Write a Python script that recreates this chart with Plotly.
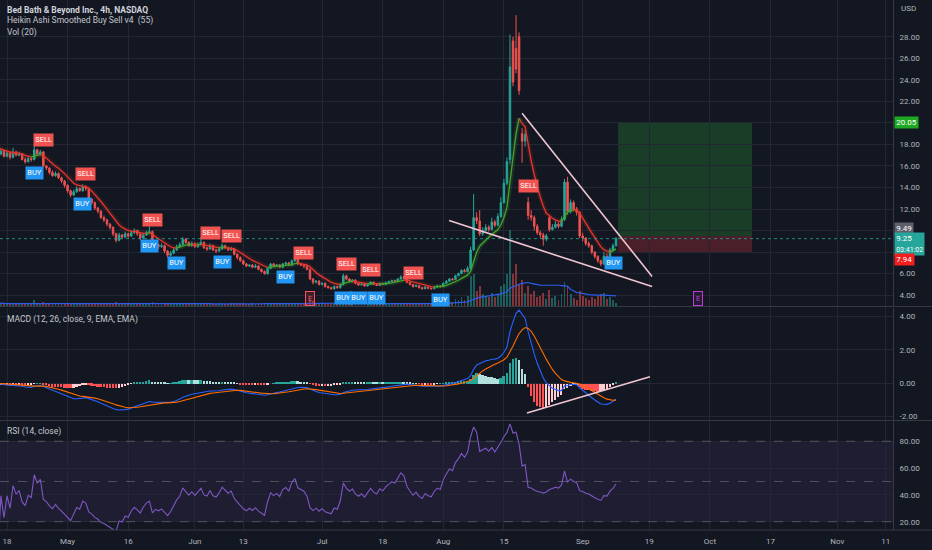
import numpy as np
import pandas as pd
import plotly.graph_objects as go

# ---------------- trading calendar: two 4h bars per session ----------------
holidays = ["2022-04-15", "2022-05-30", "2022-06-20", "2022-07-04",
            "2022-09-05", "2022-11-24"]
sessions = [d.strftime("%Y-%m-%d") for d in pd.bdate_range("2022-04-13", "2022-11-30")
            if d.strftime("%Y-%m-%d") not in holidays]
session_index = {d: i for i, d in enumerate(sessions)}


def bar_of(day, half=0):
    return 2 * session_index[day] + half


# ---------------- BBBY 4h price data (first bar: 2022-04-13) ----------------
close = [17.6, 17.1, 17.4, 16.9, 17.2, 16.8, 17.3, 17.0, 17.1, 16.6,
         16.4, 16.7, 16.6, 17.5, 17.1, 17.3, 16.0, 15.8, 15.4, 15.1,
         15.3, 14.9, 14.6, 14.2, 13.7, 13.3, 13.6, 13.9, 13.7, 14.1,
         13.9, 12.9, 12.6, 12.1, 11.8, 11.2, 11.0, 10.6, 10.3, 9.7,
         9.1, 9.6, 9.4, 9.7, 9.5, 9.8, 10.0, 9.7, 9.3, 9.6,
         9.8, 9.9, 8.5, 8.7, 8.5, 8.6, 8.1, 7.7, 7.9, 8.2,
         8.5, 8.7, 9.2, 8.9, 8.6, 8.8, 8.5, 8.7, 8.9, 8.4,
         8.3, 8.6, 8.2, 8.1, 8.3, 8.6, 8.4, 8.2, 8.3, 7.8,
         7.5, 7.2, 6.9, 6.7, 6.8, 6.6, 6.7, 6.4, 6.2, 6.0,
         6.5, 6.9, 6.7, 6.8, 6.6, 6.9, 7.0, 6.8, 7.2, 7.4,
         6.9, 6.8, 6.7, 6.4, 5.5, 5.2, 5.3, 5.0, 5.1, 4.8,
         4.7, 4.6, 4.8, 4.7, 5.0, 5.8, 5.5, 5.3, 5.4, 5.1,
         4.95, 5.05, 4.85, 5.0, 5.2, 5.0, 4.9, 5.1, 5.0, 5.15,
         5.25, 5.35, 5.3, 5.5, 5.7, 5.6, 5.2, 5.0, 4.8, 4.9,
         4.7, 4.6, 4.75, 4.65, 4.6, 4.75, 4.85, 4.8, 5.1, 5.3,
         5.5, 5.45, 5.8, 6.0, 6.3, 6.2, 6.5, 8.2, 11.2, 10.9,
         9.7, 10.0, 10.3, 10.1, 10.8, 10.5, 11.3, 12.6, 14.4, 16.4,
         25.2, 23.8, 25.0, 23.0, 18.3, 18.9, 11.4, 11.2, 10.4, 9.8,
         9.6, 9.2, 9.5, 10.1, 10.3, 10.6, 10.4, 11.0, 14.5, 11.8,
         12.6, 12.0, 11.7, 9.5, 9.3, 8.8, 8.6, 8.0, 7.6, 7.2,
         6.9, 7.6, 7.5, 8.2, 8.6, 9.25]

high = [18.1, 17.7, 17.6, 17.5, 17.4, 17.3, 17.7, 17.4, 17.3, 17.2,
        16.8, 16.9, 16.8, 17.95, 17.6, 17.5, 17.4, 16.1, 15.9, 15.6,
        15.5, 15.4, 15.0, 14.7, 14.3, 13.8, 13.8, 14.1, 14.0, 14.3,
        14.2, 14.0, 13.0, 12.7, 12.2, 11.9, 11.4, 11.1, 10.7, 10.4,
        9.8, 9.8, 9.7, 9.9, 9.8, 10.0, 10.2, 10.1, 9.8, 9.8,
        10.0, 10.4, 10.0, 8.9, 8.8, 8.8, 8.7, 8.2, 8.1, 8.4,
        8.7, 8.9, 9.4, 9.3, 9.0, 9.0, 8.9, 8.9, 9.4, 9.0,
        8.5, 8.8, 8.7, 8.3, 8.5, 8.8, 8.7, 8.5, 8.5, 8.4,
        7.9, 7.6, 7.3, 7.0, 6.9, 6.9, 6.9, 6.8, 6.5, 6.3,
        6.6, 7.0, 7.0, 6.9, 6.9, 7.0, 7.1, 7.1, 7.3, 7.6,
        7.5, 7.0, 6.9, 6.8, 6.5, 5.6, 5.4, 5.4, 5.2, 5.2,
        4.9, 4.8, 4.9, 4.9, 5.1, 6.0, 5.9, 5.6, 5.5, 5.5,
        5.15, 5.15, 5.1, 5.1, 5.3, 5.25, 5.05, 5.2, 5.15, 5.25,
        5.35, 5.45, 5.45, 5.6, 5.85, 5.8, 5.65, 5.25, 5.05, 5.0,
        4.95, 4.75, 4.85, 4.8, 4.7, 4.85, 4.95, 4.9, 5.2, 5.4,
        5.6, 5.6, 5.9, 6.1, 6.4, 6.45, 6.7, 8.5, 13.4, 11.7,
        11.9, 10.3, 10.6, 10.5, 11.2, 11.0, 11.6, 13.1, 14.8, 16.8,
        28.2, 28.0, 30.0, 28.4, 19.5, 19.3, 13.1, 11.9, 11.4, 10.6,
        10.0, 9.8, 9.7, 11.4, 10.6, 10.9, 10.8, 11.3, 14.8, 15.0,
        12.9, 12.8, 12.2, 11.8, 9.8, 9.4, 9.0, 8.7, 8.1, 7.7,
        7.3, 8.0, 7.9, 8.4, 8.8, 9.4]

low = [17.4, 16.9, 17.0, 16.8, 16.8, 16.6, 16.7, 16.9, 16.9, 16.5,
       16.2, 16.3, 16.4, 16.5, 17.0, 17.0, 15.9, 15.6, 15.2, 15.0,
       15.0, 14.8, 14.4, 14.0, 13.5, 13.1, 13.2, 13.5, 13.6, 13.6,
       13.7, 12.8, 12.4, 11.9, 11.6, 11.1, 10.8, 10.4, 10.1, 9.5,
       8.9, 9.0, 9.2, 9.3, 9.3, 9.4, 9.7, 9.5, 9.1, 9.2,
       9.5, 9.7, 8.4, 8.4, 8.3, 8.4, 7.9, 7.5, 7.6, 7.8,
       8.1, 8.4, 8.6, 8.8, 8.5, 8.5, 8.4, 8.4, 8.6, 8.3,
       8.1, 8.2, 8.1, 7.9, 8.0, 8.2, 8.3, 8.1, 8.1, 7.7,
       7.3, 7.1, 6.8, 6.6, 6.6, 6.5, 6.5, 6.3, 6.1, 5.9,
       5.9, 6.4, 6.6, 6.6, 6.5, 6.5, 6.8, 6.7, 6.7, 7.1,
       6.8, 6.7, 6.5, 6.3, 5.4, 5.0, 5.1, 4.9, 4.9, 4.7,
       4.6, 4.5, 4.5, 4.6, 4.6, 4.9, 5.4, 5.2, 5.2, 5.0,
       4.85, 4.9, 4.8, 4.8, 4.95, 4.95, 4.85, 4.85, 4.95, 4.95,
       5.1, 5.2, 5.2, 5.25, 5.45, 5.5, 5.1, 4.9, 4.7, 4.75,
       4.6, 4.5, 4.55, 4.55, 4.5, 4.55, 4.7, 4.7, 4.75, 5.05,
       5.25, 5.35, 5.4, 5.75, 5.95, 6.1, 6.1, 6.4, 8.1, 10.6,
       9.5, 9.5, 9.9, 9.9, 10.0, 10.3, 10.4, 11.2, 12.5, 14.2,
       16.2, 23.4, 24.6, 22.6, 16.3, 17.8, 11.0, 10.9, 10.0, 9.6,
       9.3, 8.6, 9.0, 9.9, 10.0, 10.2, 10.2, 10.3, 10.9, 11.5,
       11.6, 11.8, 11.4, 9.3, 9.0, 8.6, 8.4, 7.8, 7.4, 7.0,
       6.7, 6.8, 7.3, 7.4, 8.1, 8.5]

# opens follow the prior close except on these gap bars
gap_open = {0: 17.9, 170: 16.6, 171: 27.6, 172: 26.9, 173: 28.0,
            174: 19.0, 176: 12.6, 183: 11.2}

# volume per bar, millions of shares
volume = [5, 4, 4, 3, 3, 4, 5, 3, 3, 4,
          3, 3, 4, 9, 5, 4, 6, 4, 3, 4,
          3, 3, 4, 3, 4, 3, 3, 4, 3, 3,
          5, 4, 3, 4, 3, 5, 4, 4, 3, 4,
          6, 4, 3, 3, 4, 3, 3, 4, 3, 3,
          4, 5, 6, 4, 3, 3, 4, 5, 3, 3,
          4, 3, 5, 3, 3, 4, 3, 3, 4, 3,
          3, 4, 3, 3, 4, 3, 3, 3, 4, 4,
          4, 5, 4, 3, 3, 4, 3, 4, 4, 5,
          5, 4, 3, 3, 4, 3, 3, 4, 4, 5,
          4, 3, 4, 5, 9, 7, 5, 5, 4, 5,
          4, 4, 3, 4, 5, 8, 5, 4, 3, 4,
          3, 3, 4, 3, 4, 3, 3, 4, 3, 3,
          4, 3, 4, 4, 5, 4, 4, 3, 4, 3,
          3, 4, 3, 3, 4, 3, 4, 4, 7, 9,
          8, 6, 10, 9, 12, 8, 14, 40, 42, 20,
          27, 16, 14, 12, 18, 13, 16, 27, 30, 43,
          100, 43, 56, 30, 34, 18, 27, 16, 20, 12,
          14, 18, 10, 22, 11, 14, 9, 16, 32, 25,
          16, 11, 9, 20, 14, 11, 9, 12, 10, 14,
          16, 18, 10, 12, 8, 5]

# ---------------- axis ticks ----------------
tick_days = ["2022-04-18", "2022-05-02", "2022-05-16", "2022-06-01", "2022-06-13",
             "2022-07-01", "2022-07-18", "2022-08-01", "2022-08-15", "2022-09-01",
             "2022-09-19", "2022-10-03", "2022-10-17", "2022-11-01", "2022-11-11"]
tick_text = ["18", "May", "16", "Jun", "13", "Jul", "18", "Aug", "15", "Sep",
             "19", "Oct", "17", "Nov", "11"]
price_ticks = [4, 6, 8, 10, 12, 14, 16, 18, 20, 22, 24, 26, 28]
price_ticks_covered = [8, 10, 20]          # hidden behind the axis price tags
macd_ticks = [-2, 0, 2, 4]
rsi_ticks = [20, 40, 60, 80]
rsi_levels = [80, 50, 20]

# ---------------- indicator signals & events ----------------
sell_bars = [16, 30, 52, 71, 78, 102, 116, 124, 138, 176]
buy_bars = [13, 29, 51, 60, 75, 96, 115, 120, 126, 147, 204]
earnings_days = ["2022-06-29", "2022-09-29"]
earnings_colors = ["#f7525f", "#c23bd8"]
earnings_fills = ["rgba(242,54,69,0.18)", "rgba(156,39,176,0.12)"]

# ---------------- drawings ----------------
entry_price, target_price, stop_price = 9.49, 20.05, 7.94
position_span = (205.7, 249.9)
last_price = 9.25
bar_timer = "03:41:02"
wedge_upper = [(174.0, 20.9), (216.9, 5.74)]
wedge_lower = [(149.9, 10.93), (216.9, 4.81)]
macd_trend = [(175.6, -1.78), (216.2, 0.38)]

# ---------------- derived series ----------------
n = len(close)
bars = np.arange(n)
c = pd.Series(close, dtype=float)
o = pd.Series([gap_open.get(i, close[i - 1] if i > 0 else close[0]) for i in range(n)])
h = pd.Series(high, dtype=float)
l = pd.Series(low, dtype=float)
h = np.maximum(h, np.maximum(o, c))
l = np.minimum(l, np.minimum(o, c))

ha_smooth = ((o + h + l + c) / 4).ewm(span=8, adjust=False).mean()

ema_fast = c.ewm(span=12, adjust=False).mean()
ema_slow = c.ewm(span=26, adjust=False).mean()
macd = ema_fast - ema_slow
signal = macd.ewm(span=9, adjust=False).mean()
hist = macd - signal

delta = c.diff().fillna(0)
gain = delta.clip(lower=0).ewm(alpha=1 / 14, adjust=True).mean()
loss = (-delta.clip(upper=0)).ewm(alpha=1 / 14, adjust=True).mean()
rsi = 100 - 100 / (1 + gain / loss.replace(0, np.nan))
rsi = rsi.fillna(50)

vol_ma = pd.Series(volume, dtype=float).rolling(20, min_periods=1).mean()

# ---------------- style ----------------
BG = "#131722"
GRID = "#232733"
AXIS_LINE = "#363a45"
TEXT = "#b2b5be"
UP = "#26a69a"
DOWN = "#ef5350"
FONT = "Roboto"

PLOT_H = 530.0
PLOT_W = 893.0


def py(px):
    return 1 - px / PLOT_H


main_dom = [py(306.5), 1]
macd_dom = [py(420), py(307.5)]
rsi_dom = [0, py(421)]

x_range = [(0 + 5.12) / 3.03, (PLOT_W + 5.12) / 3.03]
tick_vals = [bar_of(d) for d in tick_days]

fig = go.Figure()

# volume (overlay on the price pane)
vol_colors = ["rgba(38,166,154,0.5)" if c[i] >= o[i] else "rgba(239,83,80,0.5)" for i in range(n)]
fig.add_trace(go.Bar(x=bars, y=volume, marker=dict(color=vol_colors, line_width=0),
                     width=0.62, xaxis="x", yaxis="y4", hoverinfo="skip"))
fig.add_trace(go.Scatter(x=bars, y=vol_ma, mode="lines", line=dict(color="#2f5bea", width=1.2),
                         xaxis="x", yaxis="y4", hoverinfo="skip"))


# smoothed Heikin Ashi line, green while rising, red while falling
def direction_runs(xs, ys):
    runs = {"up": ([], []), "down": ([], [])}
    prev = None
    for i in range(1, len(ys)):
        d = "up" if ys[i] >= ys[i - 1] else "down"
        rx, ry = runs[d]
        if d != prev:
            if rx:
                rx.append(None)
                ry.append(None)
            rx.append(xs[i - 1])
            ry.append(ys[i - 1])
        rx.append(xs[i])
        ry.append(ys[i])
        prev = d
    return runs


runs = direction_runs(list(bars), list(ha_smooth))
for key, col, glow in [("down", "#e8352c", "rgba(200,50,40,0.16)"),
                       ("up", "#43a52a", "rgba(67,165,42,0.16)")]:
    rx, ry = runs[key]
    fig.add_trace(go.Scatter(x=rx, y=ry, mode="lines", line=dict(color=glow, width=5),
                             xaxis="x", yaxis="y", hoverinfo="skip", connectgaps=False))
    fig.add_trace(go.Scatter(x=rx, y=ry, mode="lines", line=dict(color=col, width=1.3),
                             xaxis="x", yaxis="y", hoverinfo="skip", connectgaps=False))

# candles
fig.add_trace(go.Candlestick(
    x=bars, open=o, high=h, low=l, close=c, xaxis="x", yaxis="y",
    increasing=dict(line=dict(color=UP, width=1), fillcolor=UP),
    decreasing=dict(line=dict(color=DOWN, width=1), fillcolor=DOWN),
    whiskerwidth=0, hoverinfo="skip"))

# MACD pane
hist_colors = []
for i in range(n):
    prev = hist[i - 1] if i > 0 else hist[i]
    if hist[i] >= 0:
        hist_colors.append("#26a69a" if hist[i] >= prev else "#b2dfdb")
    else:
        hist_colors.append("#ff5252" if hist[i] < prev else "#ffcdd2")
fig.add_trace(go.Bar(x=bars, y=hist, marker=dict(color=hist_colors, line_width=0), width=0.62,
                     xaxis="x2", yaxis="y2", hoverinfo="skip"))
fig.add_trace(go.Scatter(x=bars, y=macd, mode="lines", line=dict(color="#2962ff", width=1.1),
                         xaxis="x2", yaxis="y2", hoverinfo="skip"))
fig.add_trace(go.Scatter(x=bars, y=signal, mode="lines", line=dict(color="#ff6d00", width=1.1),
                         xaxis="x2", yaxis="y2", hoverinfo="skip"))

# RSI pane
fig.add_trace(go.Scatter(x=bars, y=rsi, mode="lines", line=dict(color="#7e57c2", width=1.1),
                         xaxis="x3", yaxis="y3", hoverinfo="skip"))

shapes = []
# RSI band and levels
shapes.append(dict(type="rect", xref="paper", yref="y3", x0=0, x1=1, y0=20, y1=80,
                   fillcolor="rgba(126,87,194,0.10)", line_width=0, layer="below"))
for lv in rsi_levels:
    shapes.append(dict(type="line", xref="paper", yref="y3", x0=0, x1=1, y0=lv, y1=lv,
                       line=dict(color="rgba(120,123,134,0.55)", width=1, dash="dash")))

# long position tool
p0, p1 = position_span
shapes.append(dict(type="rect", xref="x", yref="y", x0=p0, x1=p1, y0=entry_price, y1=target_price,
                   fillcolor="rgba(40,150,50,0.30)", line_width=0, layer="below"))
shapes.append(dict(type="rect", xref="x", yref="y", x0=p0, x1=p1, y0=stop_price, y1=entry_price,
                   fillcolor="rgba(242,54,69,0.25)", line_width=0, layer="below"))

# last price line
shapes.append(dict(type="line", xref="paper", yref="y", x0=0, x1=1, y0=last_price, y1=last_price,
                   line=dict(color="rgba(38,166,154,0.8)", width=1, dash="dot")))

# trend lines
for (xa, ya), (xb, yb) in [wedge_upper, wedge_lower]:
    shapes.append(dict(type="line", xref="x", yref="y", x0=xa, y0=ya, x1=xb, y1=yb,
                       line=dict(color="#f1c4d2", width=1.6)))
(xa, ya), (xb, yb) = macd_trend
shapes.append(dict(type="line", xref="x2", yref="y2", x0=xa, y0=ya, x1=xb, y1=yb,
                   line=dict(color="#f1c4d2", width=1.6)))

# pane separators (span the price scale as well)
full_w = 932.0 / PLOT_W
for px in (306.5, 420.5, 530):
    shapes.append(dict(type="line", xref="paper", yref="paper", x0=0, x1=full_w,
                       y0=py(px), y1=py(px), line=dict(color=AXIS_LINE, width=1)))

annotations = []
# legend texts
legend_lines = [("<b>Bed Bath &amp; Beyond Inc., 4h, NASDAQ</b>", 9.5, "#d1d4dc"),
                ("Heikin Ashi Smoothed Buy Sell v4  (55)", 21, "#c3c6ce"),
                ("Vol (20)", 33, "#c3c6ce"),
                ("MACD (12, 26, close, 9, EMA, EMA)", 319, "#c3c6ce"),
                ("RSI (14, close)", 431.5, "#c3c6ce")]
for txt, ypx, col in legend_lines:
    annotations.append(dict(text=txt, xref="paper", yref="paper", x=5 / PLOT_W, y=py(ypx),
                            xanchor="left", yanchor="middle", showarrow=False,
                            font=dict(family=FONT, size=8.5, color=col)))
annotations.append(dict(text="USD", xref="paper", yref="paper", x=1 + 6 / PLOT_W, y=py(9),
                        xanchor="left", yanchor="middle", showarrow=False,
                        font=dict(family=FONT, size=8, color=TEXT)))

# buy / sell labels
for b in sell_bars:
    annotations.append(dict(text="SELL", x=b, y=h[b], xref="x", yref="y", xanchor="center",
                            yanchor="bottom", yshift=4, showarrow=False, bgcolor="#f05350",
                            borderpad=1.3, font=dict(family=FONT, size=7.5, color="white")))
for b in buy_bars:
    annotations.append(dict(text="BUY", x=b, y=l[b], xref="x", yref="y", xanchor="center",
                            yanchor="top", yshift=-5, showarrow=False, bgcolor="#2196f3",
                            borderpad=1.3, font=dict(family=FONT, size=7.5, color="white")))

# earnings markers
for d, col, fill in zip(earnings_days, earnings_colors, earnings_fills):
    annotations.append(dict(text="E", x=bar_of(d), y=0.027, xref="x", yref="y domain",
                            xanchor="center", yanchor="middle", showarrow=False,
                            bgcolor=fill, bordercolor=col, borderwidth=1, borderpad=2,
                            font=dict(family=FONT, size=7.5, color=col)))

# price scale tags
tags = [(target_price, f"{target_price:.2f}", "#1ea722", 0),
        (entry_price, f"{entry_price:.2f}", "#5d606b", 8),
        (last_price, f"{last_price:.2f}<br><span style='font-size:7px'>{bar_timer}</span>", "#26a69a", -5),
        (stop_price, f"{stop_price:.2f}", "#f21f1f", -7)]
for val, txt, col, shift in tags:
    annotations.append(dict(text=txt, x=1, y=val, xref="paper", yref="y", xanchor="left",
                            yanchor="middle", yshift=shift, xshift=1, showarrow=False,
                            bgcolor=col, borderpad=1.2, align="left",
                            font=dict(family=FONT, size=8, color="white")))

axis_common = dict(showgrid=True, gridcolor=GRID, gridwidth=1, zeroline=False,
                   tickfont=dict(family=FONT, size=8, color=TEXT))
x_common = dict(axis_common, range=x_range, tickmode="array", tickvals=tick_vals,
                ticktext=tick_text, showline=False, fixedrange=True)
y_common = dict(axis_common, side="right", ticks="outside", ticklen=4,
                tickcolor="rgba(0,0,0,0)", showline=True, linecolor=AXIS_LINE, linewidth=1)

price_text = ["" if v in price_ticks_covered else f"{v:.2f}" for v in price_ticks]

fig.update_layout(
    width=932, height=550,
    margin=dict(l=0, r=39, t=0, b=20),
    paper_bgcolor=BG, plot_bgcolor=BG,
    showlegend=False, bargap=0,
    font=dict(family=FONT, color=TEXT),
    xaxis=dict(x_common, domain=[0, 1], anchor="y", showticklabels=False,
               rangeslider=dict(visible=False)),
    xaxis2=dict(x_common, domain=[0, 1], anchor="y2", matches="x", showticklabels=False),
    xaxis3=dict(x_common, domain=[0, 1], anchor="y3", matches="x", showticklabels=True,
                ticks="outside", ticklen=3, tickcolor="rgba(0,0,0,0)"),
    yaxis=dict(y_common, domain=main_dom, anchor="x", range=[2.95, 31.41],
               tickmode="array", tickvals=price_ticks, ticktext=price_text),
    yaxis2=dict(y_common, domain=macd_dom, anchor="x2", range=[-2.2, 4.52],
                tickmode="array", tickvals=macd_ticks,
                ticktext=[f"{v:.2f}" for v in macd_ticks]),
    yaxis3=dict(y_common, domain=rsi_dom, anchor="x3", range=[13.8, 95.1],
                tickmode="array", tickvals=rsi_ticks,
                ticktext=[f"{v:.2f}" for v in rsi_ticks]),
    yaxis4=dict(overlaying="y", anchor="x", range=[0, 400], visible=False, fixedrange=True),
    shapes=shapes,
    annotations=annotations,
)

fig.write_html("out.html")
